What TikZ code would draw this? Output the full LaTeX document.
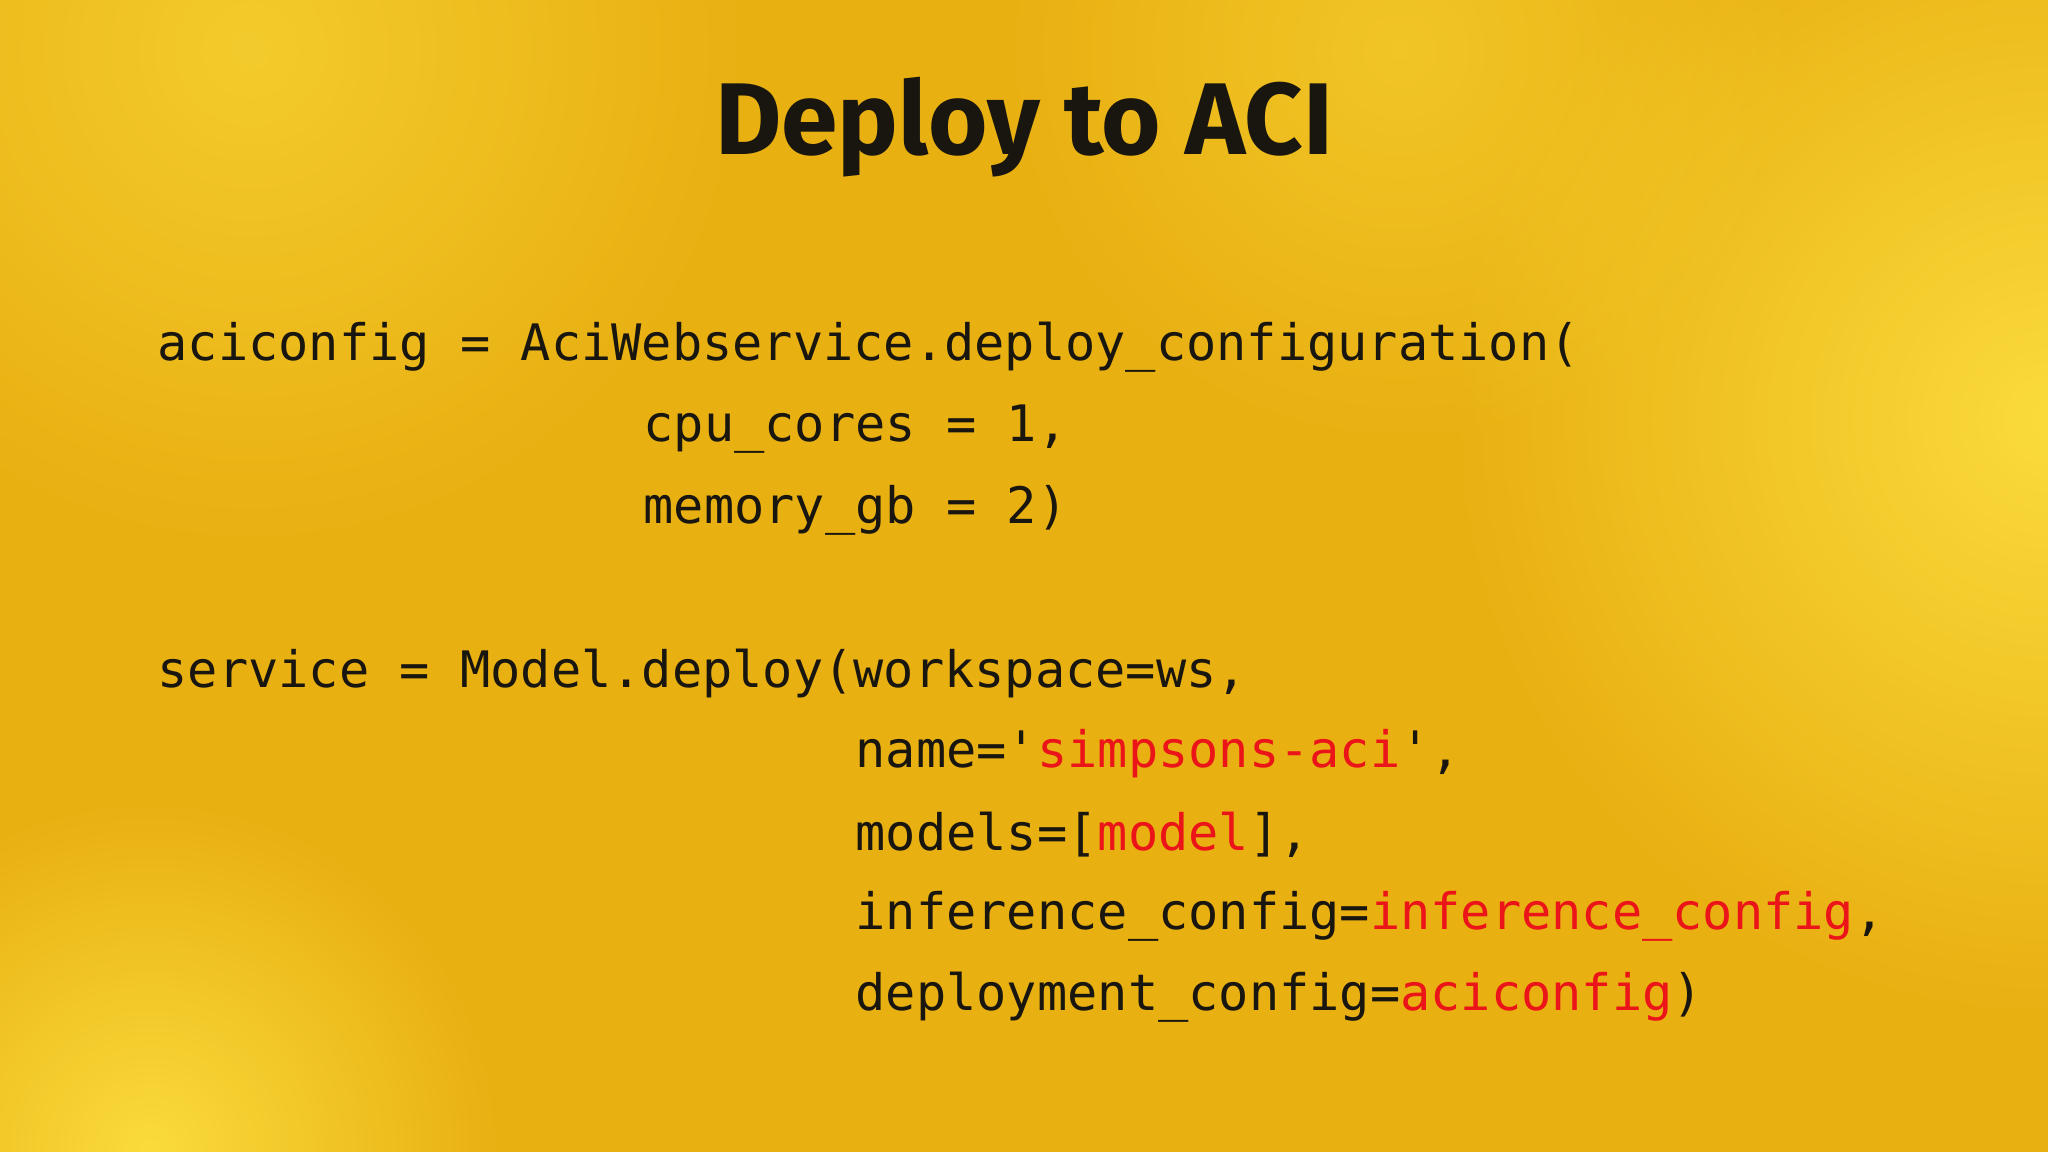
\documentclass[tikz,border=0pt]{standalone}
\usepackage{fontspec}
\usetikzlibrary{fadings}
\newfontfamily\codefont{DejaVu Sans Mono}
\newfontfamily\titlefont{Fira Sans}
\definecolor{bgbase}{RGB}{233,176,18}
\definecolor{bglight}{RGB}{255,230,70}
\definecolor{codered}{RGB}{235,20,25}
\definecolor{ink}{RGB}{25,22,15}
\tikzfading[name=softglow, inner color=transparent!0, outer color=transparent!100]
\tikzset{codeline/.style={anchor=west,inner sep=0pt,text=ink,font=\codefont\fontsize{14.3pt}{16pt}\selectfont},
glow/.style={fill=bglight,path fading=softglow}}
\newcommand{\rd}[1]{\textcolor{codered}{#1}}
\newcommand{\q}{\char"27}
\begin{document}
\begin{tikzpicture}[x=1cm,y=-1cm]
\useasboundingbox (0,0) rectangle (20.48,11.52);
\fill[bgbase] (0,0) rectangle (20.48,11.52);
\fill[glow,opacity=0.8] (20.5,4.2) circle (6);
\fill[glow,opacity=0.5] (2.5,0.5) circle (5);
\fill[glow,opacity=0.8] (1.5,11.5) circle (3.5);
\fill[glow,opacity=0.4] (14,0.5) circle (4);
\node[font=\titlefont\bfseries\fontsize{29pt}{34pt}\selectfont,text=ink] (title) at (10.24,1.27) {Deploy to ACI};
\node[codeline] (l1) at (1.57,3.47) {aciconfig = AciWebservice.deploy\_configuration(};
\node[codeline] (l2) at (6.43,4.29) {cpu\_cores = 1,};
\node[codeline] (l3) at (6.43,5.10) {memory\_gb = 2)};
\node[codeline] (l4) at (1.57,6.73) {service = Model.deploy(workspace=ws,};
\node[codeline] (l5) at (8.55,7.54) {name=\q\rd{simpsons-aci}\q,};
\node[codeline] (l6) at (8.55,8.35) {models=[\rd{model}],};
\node[codeline] (l7) at (8.55,9.16) {inference\_config=\rd{inference\_config},};
\node[codeline] (l8) at (8.55,9.97) {deployment\_config=\rd{aciconfig})};
\end{tikzpicture}
\end{document}
